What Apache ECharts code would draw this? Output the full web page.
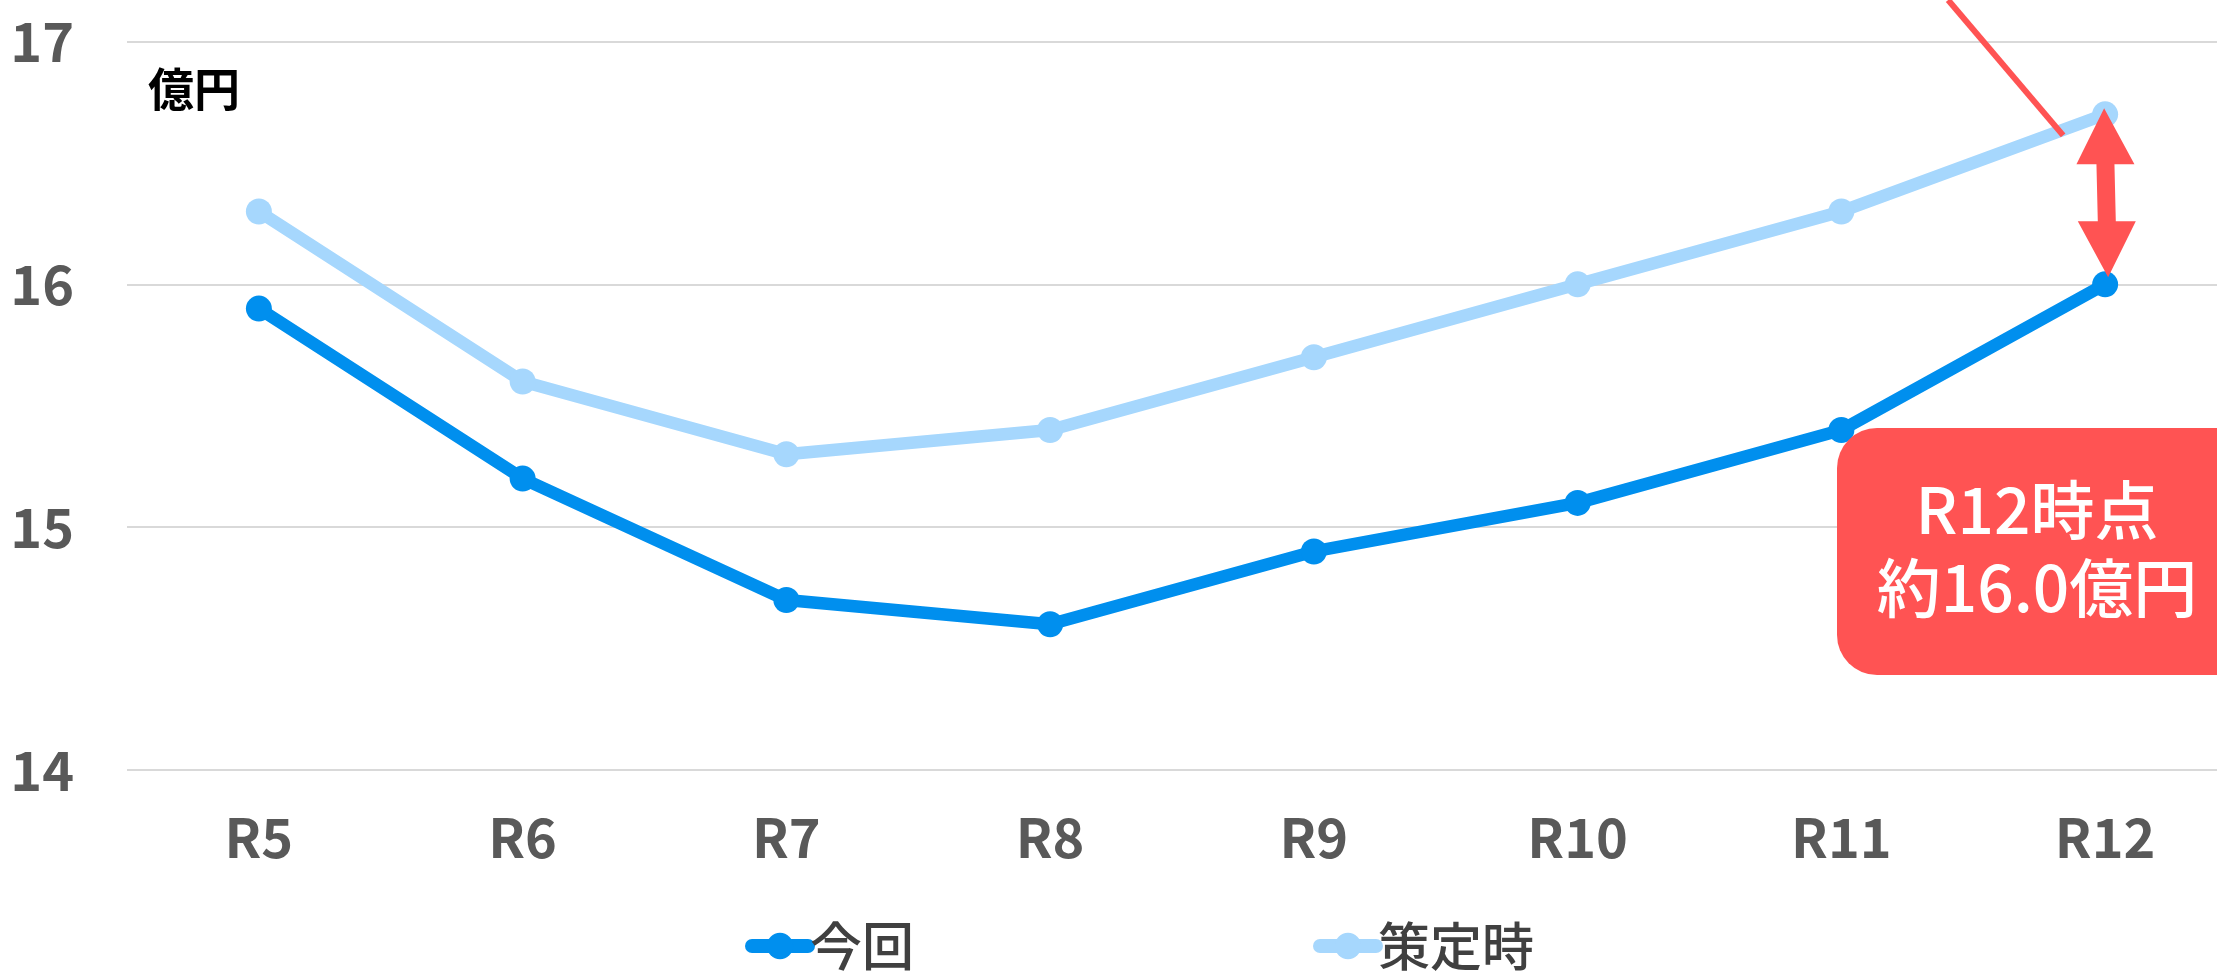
<!DOCTYPE html>
<html>
<head>
<meta charset="utf-8">
<script src="https://cdn.jsdelivr.net/npm/echarts@6/dist/echarts.min.js"></script>
<style>
html,body{margin:0;padding:0;background:#fff;}
#chart{width:2217px;height:974px;}
</style>
</head>
<body>
<div id="chart"></div>
<script>
const categories = ['R5','R6','R7','R8','R9','R10','R11','R12'];
const seriesNames = ['今回','策定時'];
const currentValues = [15.9, 15.2, 14.7, 14.6, 14.9, 15.1, 15.4, 16.0];
const planValues = [16.3, 15.6, 15.3, 15.4, 15.7, 16.0, 16.3, 16.7];
const yTicks = [14, 15, 16, 17];
const unitLabel = '億円';
const calloutLines = ['R12時点', '約16.0億円'];

const FONT = '"Noto Sans CJK JP", "Noto Sans", sans-serif';
const BLUE = '#008FEE';
const LIGHT = '#A6D7FD';
const RED = '#FF5353';

const chart = echarts.init(document.getElementById('chart'), null, {renderer: 'canvas'});

const option = {
  animation: false,
  backgroundColor: '#ffffff',
  grid: {left: 127, top: 41.5, right: -20, bottom: 204, containLabel: false, outerBoundsMode: 'none'},
  xAxis: {
    type: 'category',
    data: categories,
    boundaryGap: true,
    axisLine: {show: false},
    axisTick: {show: false},
    axisLabel: {fontFamily: FONT, fontSize: 54, fontWeight: 'bold', color: '#595959', margin: 40}
  },
  yAxis: {
    type: 'value',
    min: yTicks[0],
    max: yTicks[yTicks.length - 1],
    interval: 1,
    axisLine: {show: false},
    axisTick: {show: false},
    splitLine: {lineStyle: {color: '#D9D9D9', width: 2}},
    axisLabel: {fontFamily: FONT, fontSize: 54, fontWeight: 'bold', color: '#595959', margin: 53}
  },
  legend: {
    data: seriesNames,
    left: 740,
    top: 915,
    itemGap: 399,
    itemWidth: 56,
    itemHeight: 33,
    lineStyle: {width: 14, cap: 'round'},
    textStyle: {fontFamily: FONT, fontSize: 52, fontWeight: 500, color: '#404040', padding: [0, 0, 0, -3]}
  },
  series: [
    {
      name: seriesNames[0],
      type: 'line',
      data: currentValues,
      symbol: 'circle',
      symbolSize: 26,
      z: 3,
      itemStyle: {color: BLUE},
      lineStyle: {color: BLUE, width: 12.5}
    },
    {
      name: seriesNames[1],
      type: 'line',
      data: planValues,
      symbol: 'circle',
      symbolSize: 26,
      z: 2,
      itemStyle: {color: LIGHT},
      lineStyle: {color: LIGHT, width: 12.5}
    }
  ]
};
chart.setOption(option);

// Annotations positioned from the chart's own scales
const last = categories.length - 1;
const pTop = chart.convertToPixel({gridIndex: 0}, [last, planValues[last]]);
const pBot = chart.convertToPixel({gridIndex: 0}, [last, currentValues[last]]);

const y1 = pTop[1] - 6, y2 = pBot[1] - 7;
const x1 = pTop[0] - 1, x2 = pBot[0] + 3;
const headH = 56, headW = 29, shaftW = 9;
function xAt(y){ return x1 + (x2 - x1) * (y - y1) / (y2 - y1); }
const yb1 = y1 + headH, yb2 = y2 - headH;
const arrowPts = [
  [x1, y1],
  [xAt(yb1) + headW, yb1],
  [xAt(yb1) + shaftW, yb1],
  [xAt(yb2) + shaftW, yb2],
  [xAt(yb2) + headW, yb2],
  [x2, y2],
  [xAt(yb2) - headW, yb2],
  [xAt(yb2) - shaftW, yb2],
  [xAt(yb1) - shaftW, yb1],
  [xAt(yb1) - headW, yb1]
];

chart.setOption({
  graphic: [
    {
      type: 'text',
      left: 148,
      top: 66,
      style: {text: unitLabel, font: 'bold 46px ' + FONT, fill: '#000000'}
    },
    {
      type: 'line',
      shape: {x1: pTop[0] - 157, y1: 0, x2: pTop[0] - 42, y2: pTop[1] + 21},
      style: {stroke: RED, lineWidth: 6},
      z: 10
    },
    {
      type: 'polygon',
      shape: {points: arrowPts},
      style: {fill: RED},
      z: 10
    },
    {
      type: 'rect',
      shape: {x: 1837, y: 428, width: 420, height: 247, r: 40},
      style: {fill: RED},
      z: 10
    },
    {
      type: 'text',
      x: 2037,
      y: 549,
      z: 11,
      style: {
        text: calloutLines.join('\n'),
        font: '500 64px ' + FONT,
        lineHeight: 78,
        fill: '#ffffff',
        align: 'center',
        verticalAlign: 'middle'
      }
    }
  ]
});
</script>
</body>
</html>
